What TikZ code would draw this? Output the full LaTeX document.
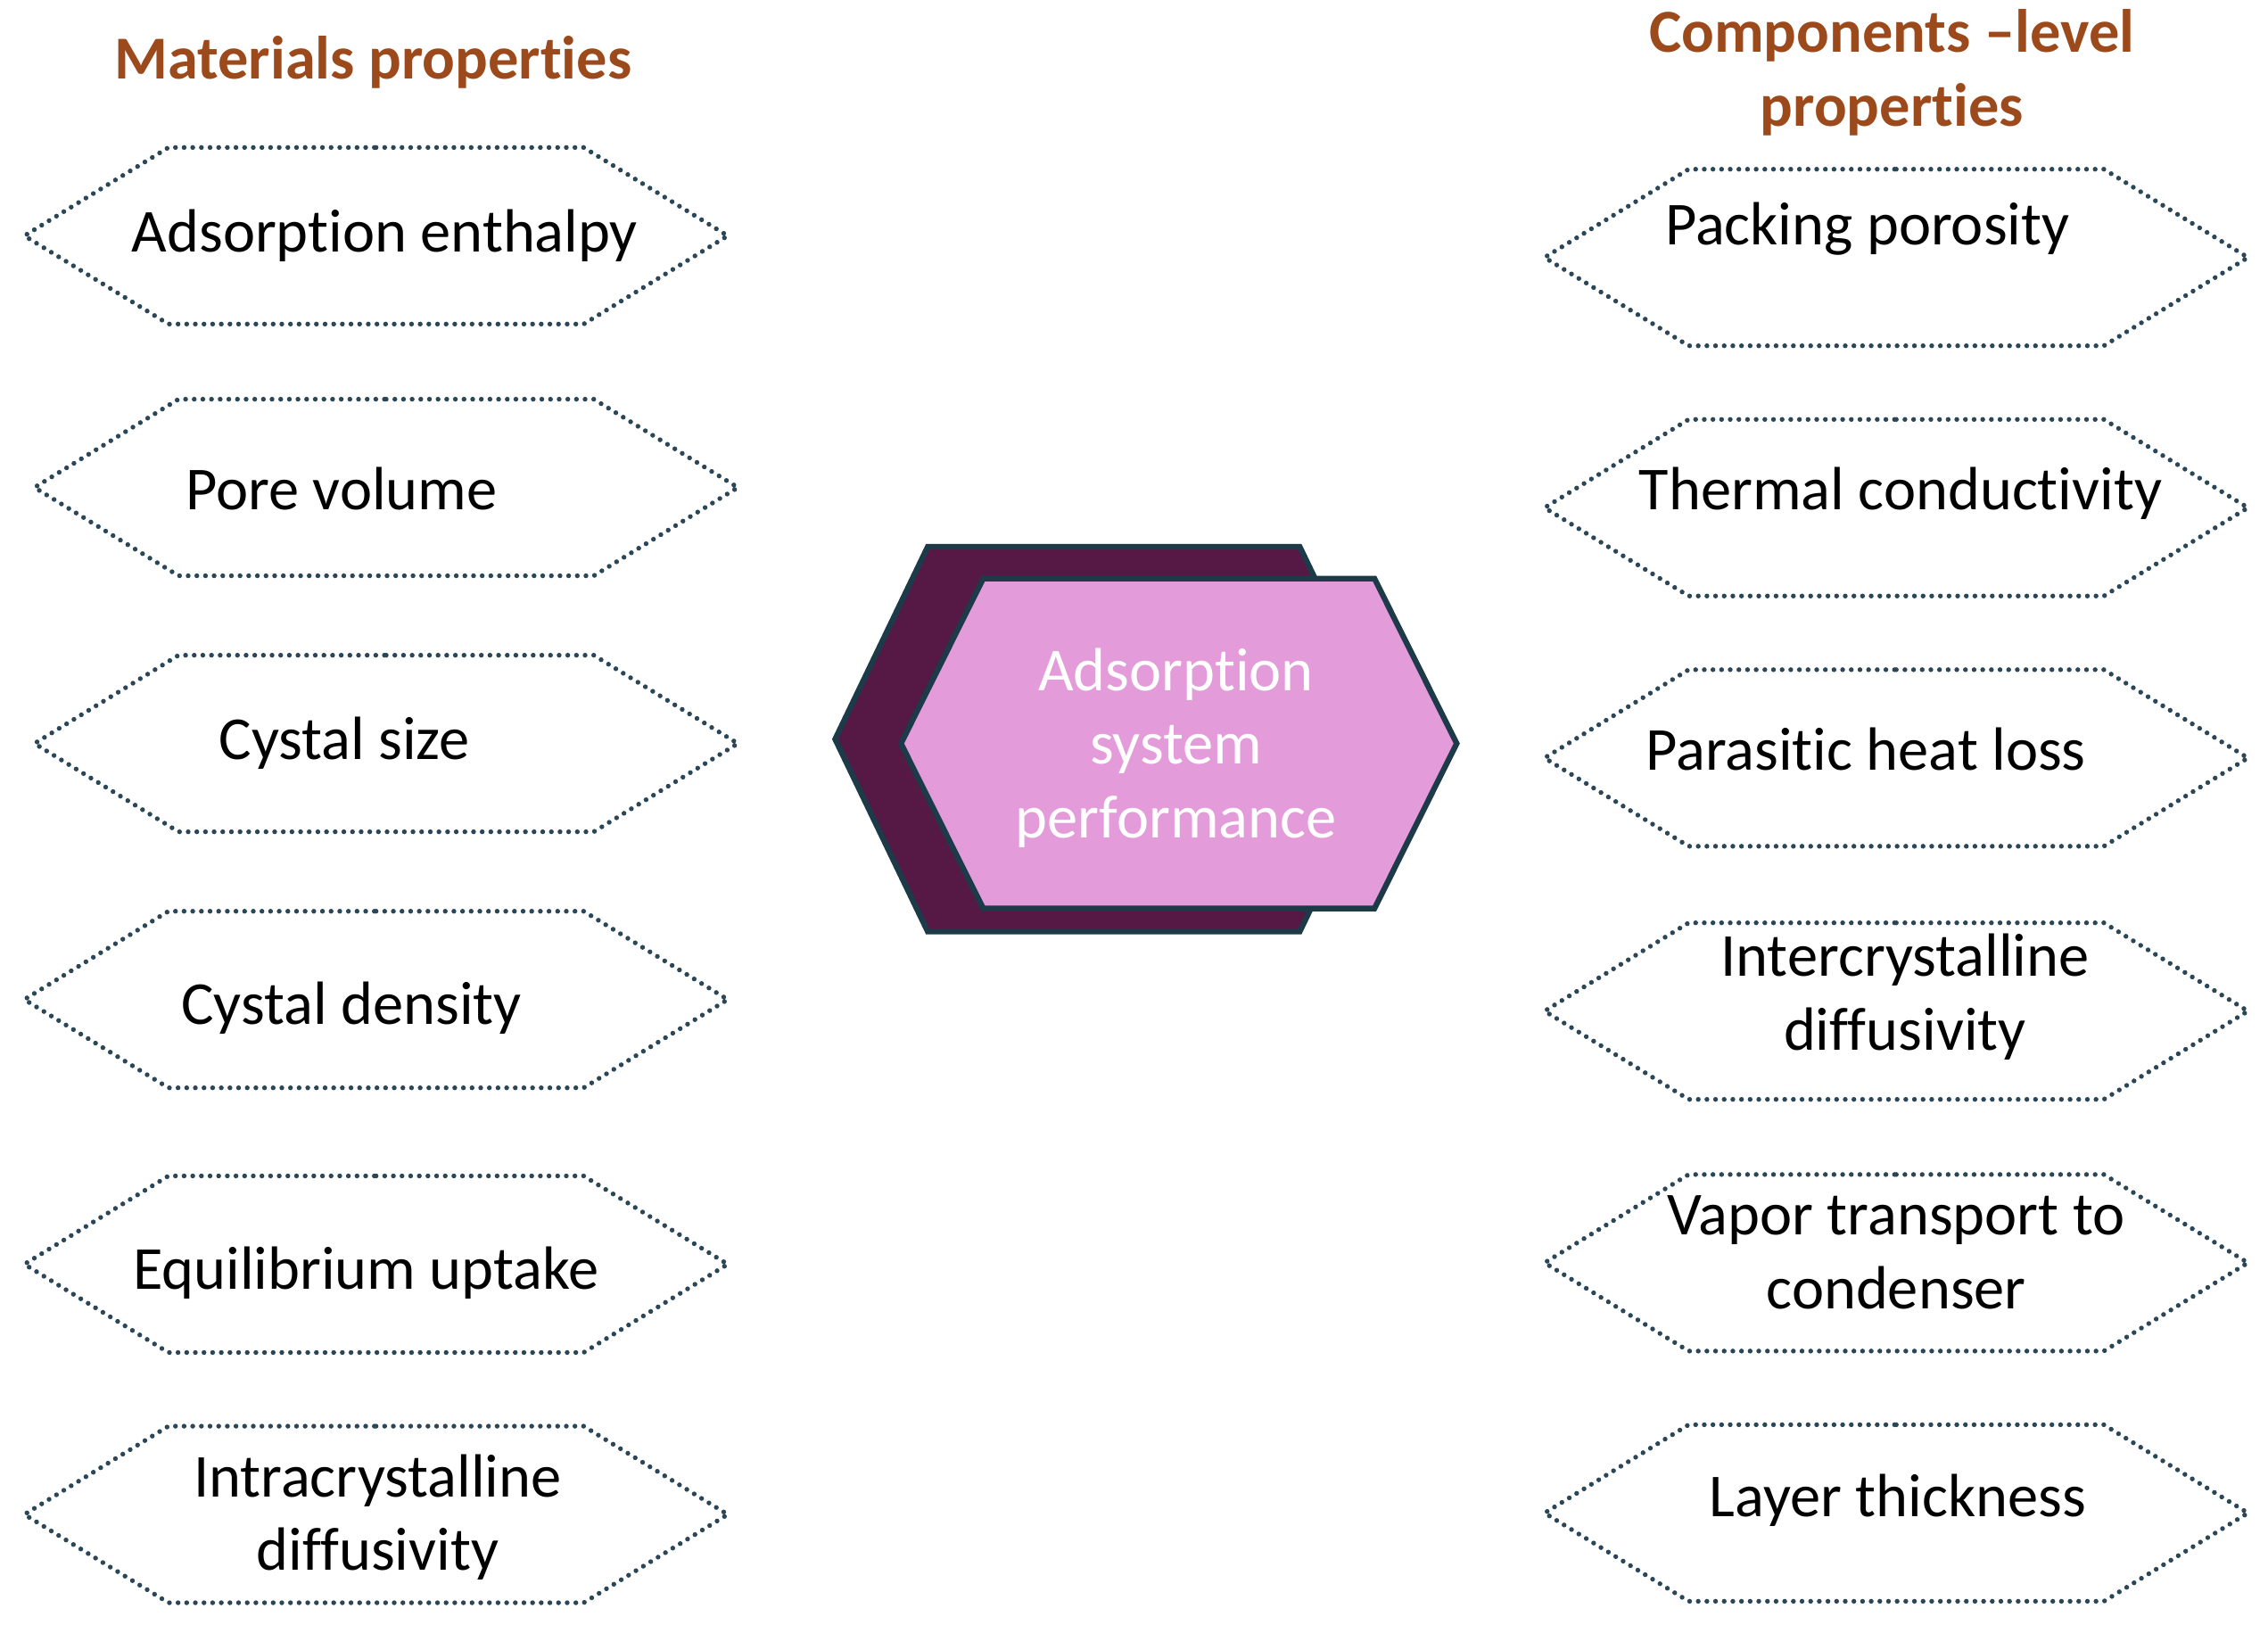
\documentclass[tikz,border=0pt]{standalone}
\usepackage{fontspec}
\setmainfont{Carlito}[Ligatures=NoCommon]
\usetikzlibrary{shapes.symbols}
\definecolor{titlebrown}{HTML}{9C4A1C}
\definecolor{dotline}{HTML}{2B4656}
\definecolor{plum}{HTML}{561845}
\definecolor{orchid}{HTML}{E39BDA}
\definecolor{edgeblue}{HTML}{1C3A48}
\tikzset{
  hexa/.style={shape=signal, signal from=nowhere, signal to=east and west,
    signal pointer angle=63, draw=dotline, line width=0.95pt,
    dash pattern=on 0pt off 1.7pt, line cap=round,
    minimum width=4.86cm, minimum height=1.22cm, inner sep=0pt},
  prop/.style={font=\fontsize{12}{14.5}\selectfont, align=center, text=black},
  head/.style={font=\fontsize{12}{14.5}\selectfont\bfseries, align=center, text=titlebrown},
  core/.style={shape=signal, signal from=nowhere, signal to=east and west,
    draw=edgeblue, line width=1.1pt, inner sep=0pt},
}
\begin{document}
\begin{tikzpicture}[x=0.01cm, y=-0.01cm]
	\useasboundingbox (0,0) rectangle (1568,1123);

	% headings
	\node[head] (mathead) at (258,43) {Materials properties};
	\node[head] (comphead) at (1308,50) {Components –level\\properties};

	% materials side
	\node[hexa] (mat1) at (260,163) {};
	\node[hexa] (mat2) at (267,337) {};
	\node[hexa] (mat3) at (267,514) {};
	\node[hexa] (mat4) at (260,691) {};
	\node[hexa] (mat5) at (260,874) {};
	\node[hexa] (mat6) at (260,1047) {};
	\node[prop] (matt1) at (266,163) {Adsorption enthalpy};
	\node[prop] (matt2) at (236,338) {Pore volume};
	\node[prop] (matt3) at (238,514) {Cystal size};
	\node[prop] (matt4) at (243,697) {Cystal density};
	\node[prop] (matt5) at (253,880) {Equilibrium uptake};
	\node[prop] (matt6) at (261,1049) {Intracrystalline\\diffusivity};

	% component side
	\node[hexa] (comp1) at (1311,178) {};
	\node[hexa] (comp2) at (1311,351) {};
	\node[hexa] (comp3) at (1311,524) {};
	\node[hexa] (comp4) at (1311,699) {};
	\node[hexa] (comp5) at (1311,873) {};
	\node[hexa] (comp6) at (1311,1046) {};
	\node[prop] (compt1) at (1291,158) {Packing porosity};
	\node[prop] (compt2) at (1314,341) {Thermal conductivity};
	\node[prop] (compt3) at (1290,518) {Parasitic heat loss};
	\node[prop] (compt4) at (1317,689) {Intercrystalline\\diffusivity};
	\node[prop] (compt5) at (1311,866) {Vapor transport to\\condenser};
	\node[prop] (compt6) at (1312,1037) {Layer thickness};

	% centre
	\node[core, fill=plum, signal pointer angle=128.6,
		minimum width=3.85cm, minimum height=2.66cm] (back) at (770,511) {};
	\node[core, fill=orchid, signal pointer angle=127,
		minimum width=3.84cm, minimum height=2.28cm] (front) at (815,514) {};
	\node[prop, text=white] (perf) at (813,517) {Adsorption\\system\\performance};
\end{tikzpicture}
\end{document}
